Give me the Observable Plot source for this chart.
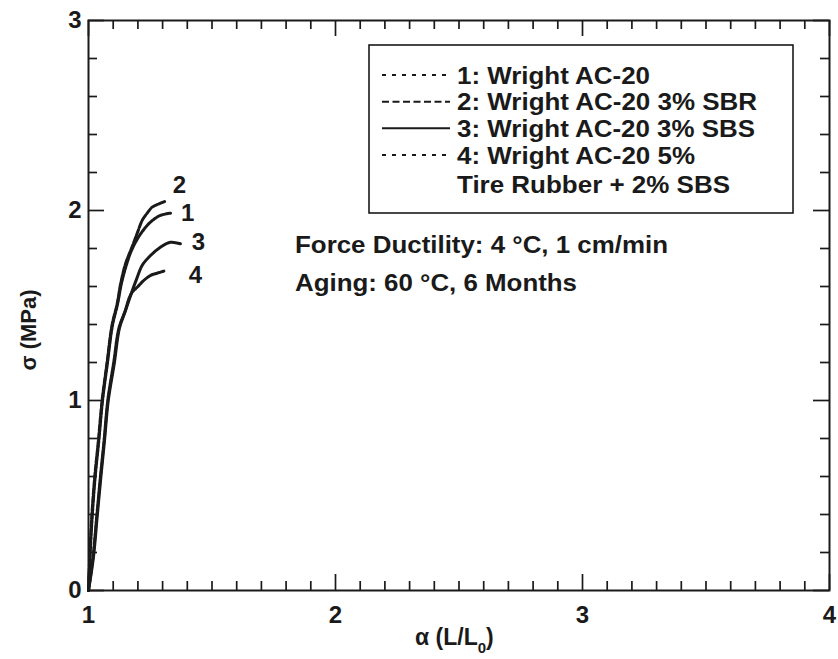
<!DOCTYPE html>
<html>
<head>
<meta charset="utf-8">
<script src="https://cdn.jsdelivr.net/npm/d3@7"></script>
<script src="https://cdn.jsdelivr.net/npm/@observablehq/plot@0.6"></script>
<style>
  html, body { margin: 0; padding: 0; background: #fff; }
  #chart svg { display: block; }
</style>
</head>
<body>
<div id="chart"></div>
<script>
// Force ductility stress–stretch curves (σ vs α = L/L0)
const seriesNames = ["1", "2", "3", "4"];
const legendLabels = [
  "1: Wright AC-20",
  "2: Wright AC-20 3% SBR",
  "3: Wright AC-20 3% SBS",
  "4: Wright AC-20 5%"
];
const legendExtra = "Tire Rubber + 2% SBS";
const noteLines = ["Force Ductility: 4 °C, 1 cm/min", "Aging: 60 °C, 6 Months"];

const alpha1 = [1.000, 1.006, 1.015, 1.027, 1.042, 1.057, 1.077, 1.097, 1.118, 1.133, 1.155, 1.177, 1.211, 1.251, 1.291, 1.332];
const sigma1 = [0.000, 0.175, 0.386, 0.596, 0.790, 1.000, 1.200, 1.395, 1.509, 1.614, 1.720, 1.798, 1.877, 1.939, 1.974, 1.986];

const alpha2 = [1.000, 1.005, 1.013, 1.025, 1.040, 1.055, 1.075, 1.095, 1.116, 1.130, 1.150, 1.177, 1.200, 1.217, 1.240, 1.258, 1.285, 1.312];
const sigma2 = [0.000, 0.175, 0.386, 0.596, 0.790, 1.000, 1.200, 1.395, 1.509, 1.614, 1.720, 1.810, 1.890, 1.947, 1.990, 2.018, 2.035, 2.049];

const alpha3 = [1.000, 1.020, 1.035, 1.050, 1.065, 1.080, 1.105, 1.125, 1.150, 1.175, 1.195, 1.217, 1.251, 1.291, 1.332, 1.372];
const sigma3 = [0.000, 0.175, 0.386, 0.596, 0.790, 1.000, 1.200, 1.380, 1.474, 1.570, 1.640, 1.711, 1.763, 1.807, 1.833, 1.825];

const alpha4 = [1.000, 1.018, 1.033, 1.048, 1.063, 1.078, 1.102, 1.123, 1.148, 1.165, 1.177, 1.197, 1.224, 1.251, 1.278, 1.305];
const sigma4 = [0.000, 0.175, 0.386, 0.596, 0.790, 1.000, 1.200, 1.380, 1.470, 1.540, 1.570, 1.596, 1.632, 1.658, 1.670, 1.681];

// curve label positions (α, σ)
const labelAlpha = [1.401, 1.368, 1.445, 1.433];
const labelSigma = [1.984, 2.130, 1.832, 1.658];

const xTickLabels = [1, 2, 3, 4];
const yTickLabels = [0, 1, 2, 3];

const dashes = ["3,1.2", "6,2", null, "3,1.2"];
const legendDashes = ["4,6", "7,3.5", null, "4,6"];
// rendered widths of the legend and note lines
const legendWidths = [193, 300, 298, 238];
const legendExtraWidth = 273;
const noteWidths = [373, 282];

const curves = [[alpha1, sigma1], [alpha2, sigma2], [alpha3, sigma3], [alpha4, sigma4]];
const rows = curves.flatMap(([a, s], k) => a.map((v, i) => ({series: seriesNames[k], alpha: v, sigma: s[i]})));
const labels = seriesNames.map((n, i) => ({name: n, alpha: labelAlpha[i], sigma: labelSigma[i]}));

const W = 838, H = 659;
const margin = {top: 20, right: 9, bottom: 69, left: 88};
const plotW = W - margin.left - margin.right;
const plotH = H - margin.top - margin.bottom;
const font = "'Liberation Sans', Arial, Helvetica, sans-serif";
const ink = "#1a1a1a";

const xMinor = d3.range(1, 4.0001, 0.1).map(v => +v.toFixed(2)).filter(v => Math.abs(v - Math.round(v)) > 1e-6);
const yMinor = d3.range(0, 3.0001, 0.2).map(v => +v.toFixed(2)).filter(v => Math.abs(v - Math.round(v)) > 1e-6);
const minorLen = 9, majorLen = 16;

const marks = [
  // inward ticks on all four sides
  Plot.tickX(xMinor, {x: d => d, insetTop: plotH - minorLen, stroke: ink, strokeWidth: 1.7}),
  Plot.tickX(xMinor, {x: d => d, insetBottom: plotH - minorLen, stroke: ink, strokeWidth: 1.7}),
  Plot.tickX(xTickLabels, {x: d => d, insetTop: plotH - majorLen, stroke: ink, strokeWidth: 1.7}),
  Plot.tickX(xTickLabels, {x: d => d, insetBottom: plotH - majorLen, stroke: ink, strokeWidth: 1.7}),
  Plot.tickY(yMinor, {y: d => d, insetRight: plotW - minorLen, stroke: ink, strokeWidth: 1.7}),
  Plot.tickY(yMinor, {y: d => d, insetLeft: plotW - minorLen, stroke: ink, strokeWidth: 1.7}),
  Plot.tickY(yTickLabels, {y: d => d, insetRight: plotW - majorLen, stroke: ink, strokeWidth: 1.7}),
  Plot.tickY(yTickLabels, {y: d => d, insetLeft: plotW - majorLen, stroke: ink, strokeWidth: 1.7}),
  Plot.axisX(xTickLabels, {tickSize: 0, tickPadding: 15, tickFormat: d => String(d), fontSize: 24, fontWeight: "bold", fill: ink, label: null}),
  Plot.axisY(yTickLabels, {tickSize: 0, tickPadding: 7, tickFormat: d => String(d), fontSize: 24, fontWeight: "bold", fill: ink, label: null}),
  ...seriesNames.map((n, i) => Plot.line(rows.filter(d => d.series === n), {
    x: "alpha", y: "sigma", stroke: ink, strokeWidth: 3,
    strokeDasharray: dashes[i], curve: "catmull-rom"
  })),
  Plot.text(labels, {x: "alpha", y: "sigma", text: "name", fontSize: 24, fontWeight: "bold", fill: ink}),
  Plot.frame({stroke: ink, strokeWidth: 2})
];

const chart = Plot.plot({
  width: W, height: H,
  marginTop: margin.top, marginRight: margin.right, marginBottom: margin.bottom, marginLeft: margin.left,
  style: {fontFamily: font, background: "#fff"},
  x: {domain: [1, 4]},
  y: {domain: [0, 3]},
  marks
});
document.getElementById("chart").appendChild(chart);

const svg = d3.select(chart);

function boldText(parent, x, y, str, width) {
  const t = parent.append("text")
    .attr("x", x).attr("y", y).attr("text-anchor", "start")
    .attr("font-family", font).attr("font-size", 24).attr("font-weight", "bold").attr("fill", ink)
    .text(str);
  if (width) t.attr("textLength", width).attr("lengthAdjust", "spacingAndGlyphs");
  return t;
}

// axis titles
const xt = svg.append("text")
  .attr("x", 415).attr("y", 645).attr("text-anchor", "start")
  .attr("font-family", font).attr("font-size", 23).attr("font-weight", "bold").attr("fill", ink);
xt.append("tspan").text("α (L/L");
xt.append("tspan").attr("font-size", 15).attr("dy", 8).text("0");
xt.append("tspan").attr("dy", -8).text(")");

svg.append("text")
  .attr("transform", "translate(36,330) rotate(-90)")
  .attr("text-anchor", "middle")
  .attr("font-family", font).attr("font-size", 22).attr("font-weight", "bold").attr("fill", ink)
  .text("σ (MPa)");

// legend box
const lg = svg.append("g");
lg.append("rect").attr("x", 369).attr("y", 45).attr("width", 424).attr("height", 168)
  .attr("fill", "#fff").attr("stroke", ink).attr("stroke-width", 1.6);
const rowY = [75, 101.7, 128.3, 155];
legendLabels.forEach((t, i) => {
  lg.append("line").attr("x1", 382).attr("x2", 450).attr("y1", rowY[i]).attr("y2", rowY[i])
    .attr("stroke", ink).attr("stroke-width", 2)
    .attr("stroke-dasharray", legendDashes[i]);
  boldText(lg, 457, rowY[i] + 8.5, t, legendWidths[i]);
});
boldText(lg, 457, 193, legendExtra, legendExtraWidth);

// test conditions note
noteLines.forEach((t, i) => boldText(svg, 295, 253 + i * 38, t, noteWidths[i]));
</script>
</body>
</html>
